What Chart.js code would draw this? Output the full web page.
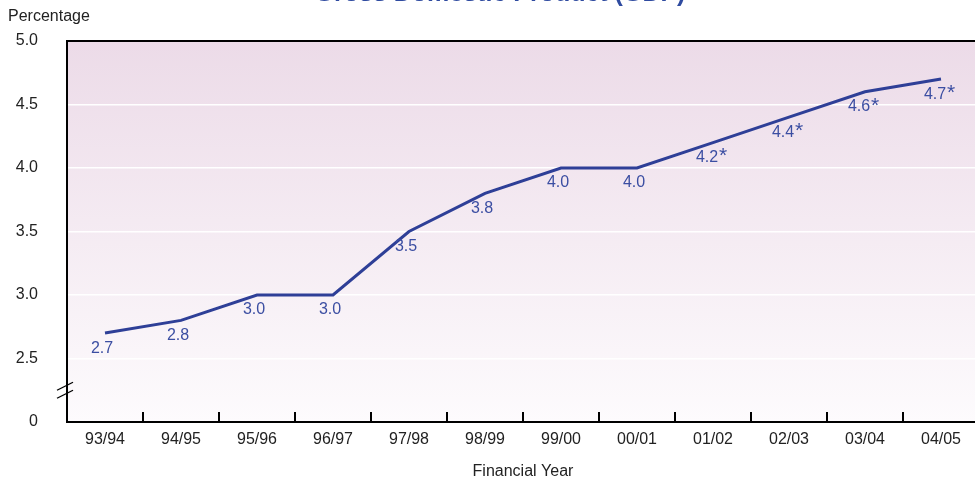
<!DOCTYPE html>
<html lang="en">
<head>
  <meta charset="UTF-8" />
  <title>Gross Domestic Product (GDP)</title>
  <script src="https://cdn.jsdelivr.net/npm/chart.js"></script>
  <style>
    body { margin: 0; overflow: hidden; background: #fff; font-family: "Liberation Sans", Arial, sans-serif; }
    .wrap { position: relative; width: 985px; height: 480px; }
    .title { position: absolute; left: 0; top: -20px; width: 1000px; text-align: center;
             font-size: 25px; line-height: 25px; font-weight: bold; color: #2f4ba0; }
    .ylabel { position: absolute; left: 8px; top: 7px; font-size: 16px; color: #222; }
  </style>
</head>
<body>
  <div class="wrap">
    <canvas id="gdpChart"></canvas>
    <div class="title">Gross Domestic Product (GDP)</div>
    <div class="ylabel">Percentage</div>
  </div>

  <script>
    const years = ["93/94", "94/95", "95/96", "96/97", "97/98", "98/99", "99/00", "00/01", "01/02", "02/03", "03/04", "04/05"];
    const gdpShare = [2.7, 2.8, 3.0, 3.0, 3.5, 3.8, 4.0, 4.0, 4.2, 4.4, 4.6, 4.7];
    const pointLabels = ["2.7", "2.8", "3.0", "3.0", "3.5", "3.8", "4.0", "4.0", "4.2", "4.4", "4.6", "4.7"];
    const estimated = [false, false, false, false, false, false, false, false, true, true, true, true];

    const FONT = "'Liberation Sans', Arial, sans-serif";
    const BLUE = "#2e3f97";

    // pink background + top border, axis break, inner x ticks, point labels
    const decor = {
      id: "decor",
      beforeDraw(chart) {
        const { ctx, chartArea: a } = chart;
        const g = ctx.createLinearGradient(0, a.top, 0, a.bottom);
        g.addColorStop(0, "#ecdbe8");
        g.addColorStop(1, "#fdfbfd");
        ctx.save();
        ctx.fillStyle = g;
        ctx.fillRect(a.left, a.top, a.right - a.left, a.bottom - a.top);
        ctx.restore();
      },
      afterDraw(chart) {
        const { ctx, chartArea: a, scales: { x, y } } = chart;
        ctx.save();
        ctx.strokeStyle = "#000";
        ctx.lineWidth = 2;
        ctx.beginPath();
        ctx.moveTo(a.left, a.top);
        ctx.lineTo(a.right, a.top);
        ctx.stroke();

        // x tick marks between categories, pointing up
        for (let i = 0; i < years.length - 1; i++) {
          const px = Math.round((x.getPixelForValue(i) + x.getPixelForValue(i + 1)) / 2);
          ctx.beginPath();
          ctx.moveTo(px, a.bottom);
          ctx.lineTo(px, a.bottom - 10);
          ctx.stroke();
        }

        // break marks on y axis
        const by = y.getPixelForValue(2.25);
        ctx.lineWidth = 1.3;
        [-4, 4].forEach(d => {
          ctx.beginPath();
          ctx.moveTo(a.left - 10, by + d + 4);
          ctx.lineTo(a.left + 6, by + d - 4);
          ctx.stroke();
        });

        // point labels (estimates get a raised asterisk)
        const meta = chart.getDatasetMeta(0);
        ctx.fillStyle = "#3b4ea2";
        ctx.textBaseline = "middle";
        meta.data.forEach((pt, i) => {
          const txt = pointLabels[i];
          ctx.font = "16px " + FONT;
          const w = ctx.measureText(txt).width;
          const cx = estimated[i] ? pt.x - 6 : pt.x - 3;
          ctx.textAlign = "center";
          ctx.fillText(txt, cx, pt.y + 15);
          if (estimated[i]) {
            ctx.textAlign = "left";
            ctx.font = "21px " + FONT;
            ctx.fillText("*", cx + w / 2 + 1, pt.y + 14);
          }
        });
        ctx.restore();
      }
    };

    new Chart(document.getElementById("gdpChart"), {
      type: "line",
      data: {
        labels: years,
        datasets: [{
          data: gdpShare,
          borderColor: BLUE,
          borderWidth: 3,
          pointRadius: 0,
          tension: 0,
          fill: false
        }]
      },
      options: {
        responsive: true,
        maintainAspectRatio: false,
        animation: false,
        layout: { padding: { top: 41, right: 6, left: 0, bottom: 0 } },
        plugins: { legend: { display: false }, tooltip: { enabled: false } },
        scales: {
          x: {
            offset: true,
            grid: { display: false, drawTicks: false },
            border: { color: "#000", width: 2 },
            ticks: { color: "#222", font: { size: 16, family: FONT }, padding: 8 },
            title: {
              display: true,
              text: "Financial Year",
              color: "#222",
              font: { size: 16, family: FONT },
              padding: { top: 14, bottom: -1 }
            },
            afterFit(s) { s.height = 58; }
          },
          y: {
            min: 2,
            max: 5,
            ticks: {
              stepSize: 0.5,
              color: "#222",
              font: { size: 16, family: FONT },
              padding: 29,
              callback: v => (v === 2 ? "0" : v.toFixed(1))
            },
            grid: {
              drawTicks: false,
              color: c => (c.tick && (c.tick.value === 2 || c.tick.value === 5) ? "rgba(0,0,0,0)" : "#ffffff"),
              lineWidth: 1.5
            },
            border: { color: "#000", width: 2 },
            afterFit(s) { s.width = 67; }
          }
        }
      },
      plugins: [decor]
    });
  </script>
</body>
</html>
